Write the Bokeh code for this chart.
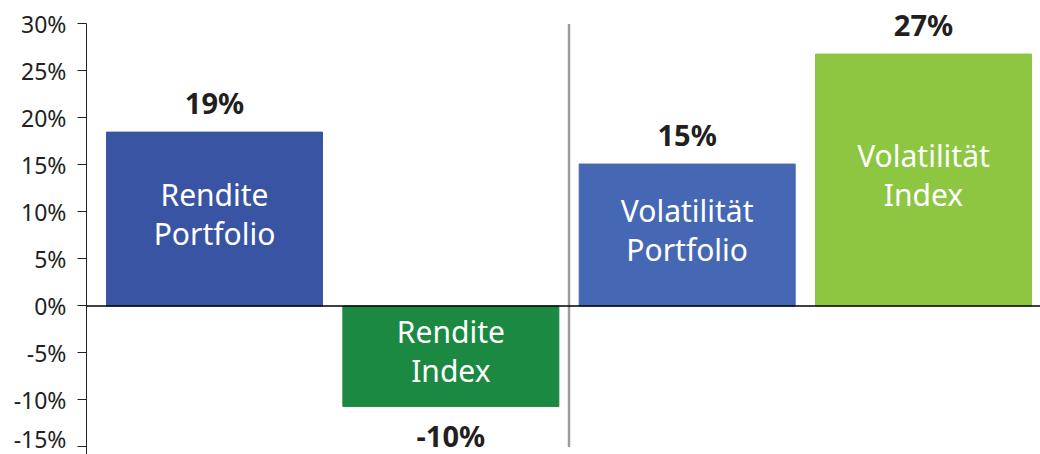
from bokeh.plotting import figure
from bokeh.models import ColumnDataSource, FixedTicker, PrintfTickFormatter, Range1d, Span
from bokeh.core.properties import value
from bokeh.embed import file_html
from bokeh.resources import INLINE

categories = ["Rendite\nPortfolio", "Rendite\nIndex", "Volatilität\nPortfolio", "Volatilität\nIndex"]
values = [18.5, -10.7, 15.1, 26.8]
value_labels = ["19%", "-10%", "15%", "27%"]
colors = ["#3A54A4", "#1C8943", "#4668B4", "#8DC641"]
y_ticks = [-15, -10, -5, 0, 5, 10, 15, 20, 25, 30]

FONT = "Noto Sans"

xs = list(range(len(categories)))
src = ColumnDataSource(dict(x=xs, top=values, color=colors, cat=categories,
                            mid=[v / 2 for v in values]))
pos = [i for i, v in enumerate(values) if v >= 0]
neg = [i for i, v in enumerate(values) if v < 0]
src_pos = ColumnDataSource(dict(x=[xs[i] for i in pos], y=[values[i] for i in pos],
                                t=[value_labels[i] for i in pos]))
src_neg = ColumnDataSource(dict(x=[xs[i] for i in neg], y=[values[i] for i in neg],
                                t=[value_labels[i] for i in neg]))

y_lo, y_hi = -15.8, 32.5
p = figure(width=1040, height=454,
           x_range=Range1d(-0.5417, 3.495), y_range=Range1d(y_lo, y_hi),
           output_backend="svg", toolbar_location=None,
           x_axis_location=None,
           min_border_left=86, min_border_right=0, min_border_top=0, min_border_bottom=0)
p.outline_line_color = None
p.xgrid.visible = False
p.ygrid.visible = False
p.background_fill_color = "white"
p.border_fill_color = "white"

p.vbar(x="x", top="top", bottom=0, width=0.914, color="color", source=src)

# divider between the two groups
p.segment(x0=[1.5], y0=[y_ticks[0]], x1=[1.5], y1=[y_ticks[-1]],
          line_color="#9c9c9c", line_width=2.5)
p.add_layout(Span(location=0, dimension="width", line_color="black", line_width=1.3))

p.text(x="x", y="mid", text="cat", source=src, text_align="center", text_baseline="middle",
       y_offset=-5, text_color="white", text_font=value(FONT), text_font_size="30px",
       text_line_height=0.95)

p.text(x="x", y="y", text="t", source=src_pos, text_align="center", text_baseline="bottom",
       y_offset=-10, text_color="#231f20", text_font=value(FONT), text_font_size="29px",
       text_font_style="bold")
p.text(x="x", y="y", text="t", source=src_neg, text_align="center", text_baseline="top",
       y_offset=9, text_color="#231f20", text_font=value(FONT), text_font_size="29px",
       text_font_style="bold")

ax = p.yaxis[0]
ax.bounds = (y_lo, y_ticks[-1])
ax.ticker = FixedTicker(ticks=y_ticks)
ax.formatter = PrintfTickFormatter(format="%d%%")
ax.major_label_text_font = FONT
ax.major_label_text_font_size = "23px"
ax.major_label_text_color = "#231f20"
ax.major_tick_out = 9
ax.major_tick_in = 0
ax.minor_tick_line_color = None
ax.major_label_standoff = 11
ax.axis_line_color = "#222222"
ax.major_tick_line_color = "#222222"

open("out.html", "w").write(file_html(p, INLINE))
